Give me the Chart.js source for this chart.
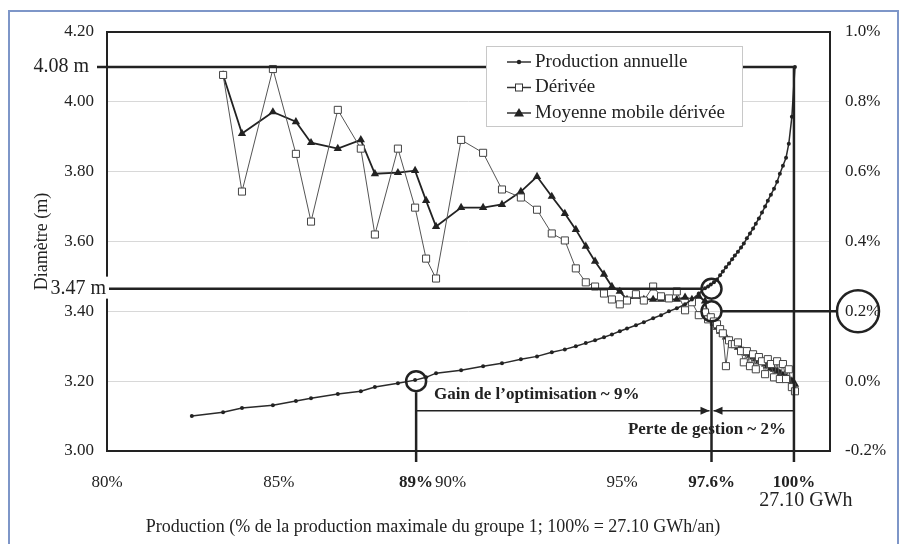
<!DOCTYPE html>
<html>
<head>
<meta charset="utf-8">
<script src="https://cdn.jsdelivr.net/npm/chart.js@4.4.1/dist/chart.umd.min.js"></script>
<style>
  html, body { margin: 0; padding: 0; background: #fff; }
</style>
</head>
<body>
<canvas id="chart" width="902" height="544"></canvas>
<script>
// Production (% de la production maximale), commune aux trois séries
var prodX = [82.47, 83.38, 83.93, 84.83, 85.50, 85.94, 86.72, 87.39, 87.80, 88.47,
    88.97, 89.29, 89.58, 90.31, 90.95, 91.50, 92.05, 92.52, 92.95, 93.33,
    93.65, 93.94, 94.21, 94.47, 94.70, 94.93, 95.14, 95.40, 95.63, 95.90,
    96.13, 96.36, 96.59, 96.83, 97.03, 97.23, 97.41,
    97.50, 97.58, 97.67, 97.76, 97.85, 97.93, 98.02, 98.11, 98.20, 98.28,
    98.37, 98.46, 98.54, 98.63, 98.72, 98.81, 98.89, 98.98, 99.07, 99.16,
    99.24, 99.33, 99.42, 99.51, 99.59, 99.68, 99.77, 99.85, 99.94, 100.03];

// Production annuelle : diamètre (m)
var diametre = [3.100, 3.111, 3.123, 3.131, 3.143, 3.151, 3.163, 3.171, 3.183, 3.194,
    3.203, 3.211, 3.223, 3.231, 3.243, 3.251, 3.263, 3.271, 3.283, 3.291,
    3.300, 3.309, 3.317, 3.326, 3.334, 3.343, 3.351, 3.360, 3.369, 3.380,
    3.389, 3.400, 3.409, 3.420, 3.434, 3.451, 3.466,
    3.471, 3.477, 3.483, 3.491, 3.503, 3.514, 3.526, 3.537, 3.549, 3.560,
    3.571, 3.583, 3.594, 3.609, 3.623, 3.637, 3.651, 3.666, 3.683, 3.700,
    3.717, 3.734, 3.751, 3.771, 3.794, 3.817, 3.840, 3.880, 3.957, 4.100];

// Dérivée (%)
var derivee = [null, 0.877, 0.543, 0.894, 0.651, 0.457, 0.777, 0.666, 0.420, 0.666,
    0.497, 0.351, 0.294, 0.691, 0.654, 0.549, 0.526, 0.491, 0.423, 0.403,
    0.323, 0.283, 0.271, 0.251, 0.234, 0.220, 0.231, 0.249, 0.231, 0.271,
    0.243, 0.237, 0.257, 0.203, 0.226, 0.189, 0.197,
    0.177, 0.183, 0.171, 0.163, 0.149, 0.137, 0.043, 0.117, 0.106, 0.106,
    0.111, 0.086, 0.054, 0.086, 0.043, 0.077, 0.034, 0.069, 0.057, 0.020,
    0.063, 0.049, 0.011, 0.057, 0.006, 0.049, 0.006, 0.034, -0.017, -0.029];

// Moyenne mobile dérivée (%)
var moyenneMobile = [null, 0.877, 0.709, 0.771, 0.743, 0.683, 0.666, 0.691, 0.594, 0.597,
    0.603, 0.517, 0.443, 0.497, 0.497, 0.506, 0.543, 0.586, 0.529, 0.480,
    0.434, 0.386, 0.343, 0.306, 0.271, 0.257, 0.234, 0.243, 0.234, 0.234,
    0.234, 0.234, 0.234, 0.240, 0.234, 0.243, 0.229,
    0.189, 0.177, 0.166, 0.154, 0.143, 0.134, 0.126, 0.117, 0.109, 0.103,
    0.097, 0.091, 0.086, 0.080, 0.074, 0.069, 0.063, 0.057, 0.054, 0.049,
    0.043, 0.037, 0.034, 0.029, 0.023, 0.017, 0.011, 0.006, 0.000, -0.009];

var xTicks = [80, 85, 89, 90, 95, 97.6, 100];
var xTicksGras = [89, 97.6, 100];

// repères de l'annotation
var prodGain = 89, prodOptimum = 97.6, prodMax = 100;
var diamGain = 3.20, diamOptimum = 3.465, diamMax = 4.10, deriveeOptimum = 0.2;
var niveauFleches = 3.115;

var serif = "'Liberation Serif', 'Times New Roman', serif";

function points(ys) {
    return prodX.map(function (x, i) { return { x: x, y: ys[i] }; })
        .filter(function (p) { return p.y !== null; });
}

var annotations = {
    id: 'annotations',
    beforeDraw: function (chart) {
        var ctx = chart.ctx;
        ctx.save();
        ctx.fillStyle = '#fff';
        ctx.fillRect(0, 0, chart.width, chart.height);
        ctx.restore();
    },
    afterDatasetsDraw: function (chart) {
        var ctx = chart.ctx, a = chart.chartArea;
        var xs = chart.scales.x, ys = chart.scales.y, yr = chart.scales.y1;
        var x89 = xs.getPixelForValue(prodGain);
        var x976 = xs.getPixelForValue(prodOptimum);
        var x100 = xs.getPixelForValue(prodMax);
        var yMax = ys.getPixelForValue(diamMax);
        var yOpt = ys.getPixelForValue(diamOptimum);
        var yGain = ys.getPixelForValue(diamGain);
        var yDer = yr.getPixelForValue(deriveeOptimum);
        var yFl = ys.getPixelForValue(niveauFleches);
        var yBas = a.bottom + 11;
        var r = 10;

        ctx.save();
        // cadre du graphique
        ctx.strokeStyle = '#222';
        ctx.lineWidth = 2;
        ctx.strokeRect(a.left, a.top, a.right - a.left, a.bottom - a.top);

        ctx.lineWidth = 2.5;
        ctx.beginPath();
        // 4.08 m puis verticale 100%
        ctx.moveTo(97, yMax);
        ctx.lineTo(x100, yMax);
        ctx.lineTo(x100, yBas);
        // 3.47 m
        ctx.moveTo(100, yOpt);
        ctx.lineTo(x976 - r, yOpt);
        // 0.2%
        ctx.moveTo(x976 + r, yDer);
        ctx.lineTo(837, yDer);
        // verticales 89% et 97.6%
        ctx.moveTo(x89, yGain + r + 1);
        ctx.lineTo(x89, yBas);
        ctx.moveTo(x976, yDer + r);
        ctx.lineTo(x976, yBas);
        ctx.stroke();

        ctx.lineWidth = 1.5;
        ctx.beginPath();
        ctx.moveTo(x89, yFl);
        ctx.lineTo(x976 - 2, yFl);
        ctx.moveTo(x976 + 2, yFl);
        ctx.lineTo(x100, yFl);
        ctx.stroke();

        // pointes de flèches
        ctx.fillStyle = '#222';
        ctx.beginPath();
        ctx.moveTo(x976 - 2, yFl);
        ctx.lineTo(x976 - 11, yFl - 4);
        ctx.lineTo(x976 - 11, yFl + 4);
        ctx.closePath();
        ctx.moveTo(x976 + 2, yFl);
        ctx.lineTo(x976 + 11, yFl - 4);
        ctx.lineTo(x976 + 11, yFl + 4);
        ctx.closePath();
        ctx.fill();

        // cercles
        ctx.lineWidth = 2.5;
        [[x89, yGain], [x976, yOpt], [x976, yDer]].forEach(function (c) {
            ctx.beginPath();
            ctx.arc(c[0], c[1], r, 0, Math.PI * 2);
            ctx.stroke();
        });

        ctx.font = 'bold 17px ' + serif;
        ctx.textBaseline = 'middle';
        ctx.textAlign = 'left';
        ctx.fillText('Gain de l\u2019optimisation ~ 9%', x89 + 18, yFl - 16);
        ctx.textAlign = 'right';
        ctx.fillText('Perte de gestion ~ 2%', x100 - 8, yFl + 19);
        ctx.restore();
    },
    afterDraw: function (chart) {
        var ctx = chart.ctx;
        var xs = chart.scales.x, ys = chart.scales.y, yr = chart.scales.y1;
        var yMax = ys.getPixelForValue(diamMax);
        var yOpt = ys.getPixelForValue(diamOptimum);
        var yDer = yr.getPixelForValue(deriveeOptimum);
        var x100 = xs.getPixelForValue(prodMax);

        ctx.save();
        ctx.fillStyle = '#222';
        ctx.strokeStyle = '#222';
        ctx.textBaseline = 'middle';

        // étiquettes 4.08 m et 3.47 m
        ctx.font = '20px ' + serif;
        ctx.textAlign = 'right';
        ctx.fillText('4.08 m', 89, yMax);
        ctx.fillStyle = '#fff';
        ctx.fillRect(54, yOpt - 12, 55, 22);
        ctx.fillStyle = '#222';
        ctx.fillText('3.47 m', 106, yOpt);

        // cercle autour de 0.2%
        ctx.lineWidth = 2.5;
        ctx.beginPath();
        ctx.arc(858, yDer, 21, 0, Math.PI * 2);
        ctx.stroke();

        // 27.10 GWh sous 100%
        ctx.textAlign = 'center';
        ctx.fillText('27.10 GWh', x100 + 12, 501);

        // titre de l'axe X
        ctx.font = '18px ' + serif;
        ctx.fillText('Production (% de la production maximale du groupe 1; 100% = 27.10 GWh/an)', 433, 527);

        // légende
        var lx = 486, ly = 46, lw = 256, lh = 80;
        ctx.fillStyle = '#fff';
        ctx.fillRect(lx, ly, lw, lh);
        ctx.strokeStyle = '#c8c8c8';
        ctx.lineWidth = 1;
        ctx.strokeRect(lx + 0.5, ly + 0.5, lw, lh);
        var items = ['Production annuelle', 'D\u00e9riv\u00e9e', 'Moyenne mobile d\u00e9riv\u00e9e'];
        ctx.font = '19px ' + serif;
        ctx.textAlign = 'left';
        items.forEach(function (t, i) {
            var y = 62 + i * 25.5;
            ctx.strokeStyle = '#333';
            ctx.lineWidth = 1.5;
            ctx.beginPath();
            ctx.moveTo(507, y);
            ctx.lineTo(531, y);
            ctx.stroke();
            ctx.fillStyle = '#222';
            if (i === 0) {
                ctx.beginPath();
                ctx.arc(519, y, 2.2, 0, Math.PI * 2);
                ctx.fill();
            } else if (i === 1) {
                ctx.fillStyle = '#fff';
                ctx.fillRect(515.5, y - 3.5, 7, 7);
                ctx.lineWidth = 1;
                ctx.strokeRect(515.5, y - 3.5, 7, 7);
            } else {
                ctx.beginPath();
                ctx.moveTo(519, y - 5);
                ctx.lineTo(524, y + 3.5);
                ctx.lineTo(514, y + 3.5);
                ctx.closePath();
                ctx.fill();
            }
            ctx.fillStyle = '#222';
            ctx.fillText(t, 535, y);
        });

        // bordure bleue extérieure
        ctx.strokeStyle = '#7e96c8';
        ctx.lineWidth = 2;
        ctx.strokeRect(9, 11, 889, 545);
        ctx.restore();
    }
};

var ctx = document.getElementById('chart').getContext('2d');

var chart = new Chart(ctx, {
    type: 'scatter',
    data: {
        datasets: [{
            label: 'Production annuelle',
            data: points(diametre),
            yAxisID: 'y',
            showLine: true,
            borderColor: '#2a2a2a',
            borderWidth: 1.5,
            pointStyle: 'circle',
            pointRadius: 2,
            pointBorderWidth: 0,
            pointBackgroundColor: '#222'
        }, {
            label: 'D\u00e9riv\u00e9e',
            data: points(derivee),
            yAxisID: 'y1',
            showLine: true,
            borderColor: '#555',
            borderWidth: 1,
            pointStyle: 'rect',
            pointRadius: 5,
            pointBorderWidth: 1,
            pointBorderColor: '#444',
            pointBackgroundColor: '#fff'
        }, {
            label: 'Moyenne mobile d\u00e9riv\u00e9e',
            data: points(moyenneMobile),
            yAxisID: 'y1',
            showLine: true,
            borderColor: '#222',
            borderWidth: 1.8,
            pointStyle: 'triangle',
            pointRadius: 4.8,
            pointBorderWidth: 0,
            pointBackgroundColor: '#222'
        }]
    },
    options: {
        responsive: false,
        animation: false,
        devicePixelRatio: 1,
        layout: { padding: { top: 32, left: 0, right: 0, bottom: 0 } },
        plugins: {
            legend: { display: false },
            tooltip: { enabled: false }
        },
        scales: {
            x: {
                type: 'linear',
                min: 80,
                max: 101.05,
                afterBuildTicks: function (scale) {
                    scale.ticks = xTicks.map(function (v) { return { value: v }; });
                },
                afterFit: function (scale) { scale.height = 93; },
                grid: { display: false, drawTicks: false },
                border: { display: false },
                ticks: {
                    autoSkip: false,
                    maxRotation: 0,
                    padding: 21,
                    color: '#222',
                    font: function (c) {
                        var gras = c.tick && xTicksGras.indexOf(c.tick.value) >= 0;
                        return { family: serif, size: 17, weight: gras ? 'bold' : 'normal' };
                    },
                    callback: function (v) { return v + '%'; }
                }
            },
            y: {
                position: 'left',
                min: 3.0,
                max: 4.2,
                afterFit: function (scale) { scale.width = 107; },
                grid: { color: '#d8d8d8', lineWidth: 1, drawTicks: false },
                border: { display: false },
                title: {
                    display: true,
                    text: 'Diam\u00e8tre (m)',
                    color: '#222',
                    font: { family: serif, size: 18 },
                    padding: { top: 31, bottom: 0 }
                },
                ticks: {
                    stepSize: 0.2,
                    padding: 13,
                    color: '#222',
                    font: { family: serif, size: 17 },
                    callback: function (v) { return v.toFixed(2); }
                }
            },
            y1: {
                position: 'right',
                min: -0.2,
                max: 1.0,
                afterFit: function (scale) { scale.width = 72; },
                grid: { display: false, drawTicks: false },
                border: { display: false },
                ticks: {
                    stepSize: 0.2,
                    padding: 15,
                    color: '#222',
                    font: { family: serif, size: 17 },
                    callback: function (v) {
                        if (Math.abs(v) < 1e-9) v = 0;
                        return v.toFixed(1) + '%';
                    }
                }
            }
        }
    },
    plugins: [annotations]
});
</script>
</body>
</html>
